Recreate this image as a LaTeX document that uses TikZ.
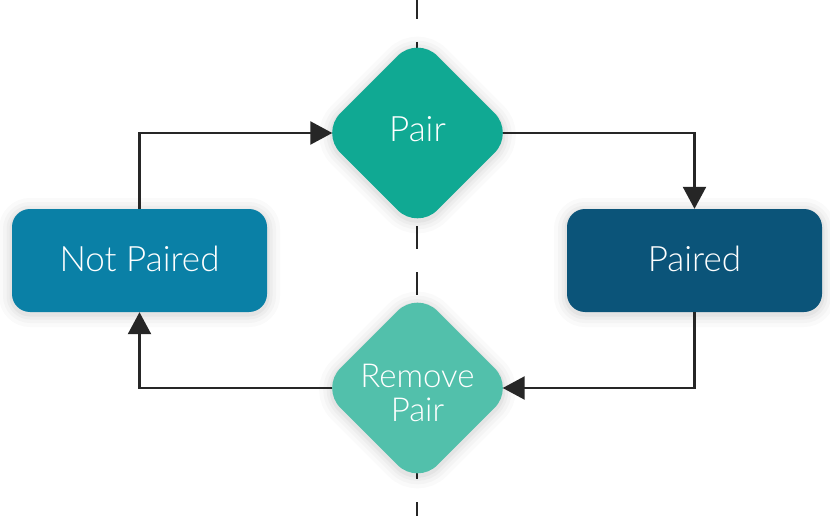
\documentclass[tikz,border=0pt]{standalone}
\usepackage{fontspec}
\setmainfont{Lato}[UprightFont={* Light}]
\usetikzlibrary{shapes.geometric,arrows.meta}
\definecolor{cpair}{HTML}{10A993}
\definecolor{cremove}{HTML}{52C0AB}
\definecolor{cnot}{HTML}{0A80A6}
\definecolor{cpaired}{HTML}{0B5479}
\definecolor{cline}{HTML}{262626}
\newcommand{\atbase}[2]{\raisebox{#1}[0pt][0pt]{#2}}
\tikzset{
  glow/.style={draw=black,draw opacity=#1},
  shad/.style={
    preaction={glow=0.018,line width=26pt,transform canvas={yshift=-2pt}},
    preaction={glow=0.022,line width=18pt,transform canvas={yshift=-2pt}},
    preaction={glow=0.028,line width=11pt,transform canvas={yshift=-2pt}},
    preaction={glow=0.035,line width=5pt,transform canvas={yshift=-2pt}}},
  statebox/.style={shad,rectangle,rounded corners=18pt,minimum width=255pt,minimum height=103pt,inner sep=0pt,text=white,font=\fontsize{35pt}{40pt}\selectfont},
  decbox/.style={shad,diamond,rounded corners=28pt,minimum width=194pt,minimum height=194pt,inner sep=0pt,text=white,align=center},
  conn/.style={draw=cline,line width=2.4pt,-{Triangle[length=22pt,width=23pt]}},
  axis/.style={draw=cline,line width=2.5pt,dash pattern=on 23pt off 23pt}
}
\begin{document}
\begin{tikzpicture}[x=1pt,y=-1pt]
\useasboundingbox[fill=white] (0,0) rectangle (830,516);
\coordinate (atop) at (417,-4);
\coordinate (abot) at (417,530);
\draw[axis] (atop) -- (abot);
\node[decbox,fill=cpair,font=\fontsize{35pt}{40pt}\selectfont] (pair) at (417.5,133) {\atbase{-8.7pt}{Pair}};
\node[decbox,fill=cremove,font=\fontsize{33pt}{34pt}\selectfont] (rp) at (417.5,388) {\atbase{-33pt}{\begin{tabular}[b]{@{}c@{}}Remove\\Pair\end{tabular}}};
\node[statebox,fill=cnot] (np) at (139.5,260.5) {\atbase{-11.2pt}{Not Paired}};
\node[statebox,fill=cpaired] (pd) at (694.5,260.5) {\atbase{-11.2pt}{Paired}};
\draw[conn] (np.north) |- ([xshift=12pt]pair.west);
\draw[conn] ([xshift=-12pt]pair.east) -| (pd.north);
\draw[conn] (pd.south) |- ([xshift=-12pt]rp.east);
\draw[conn] ([xshift=12pt]rp.west) -| (np.south);
\end{tikzpicture}
\end{document}
